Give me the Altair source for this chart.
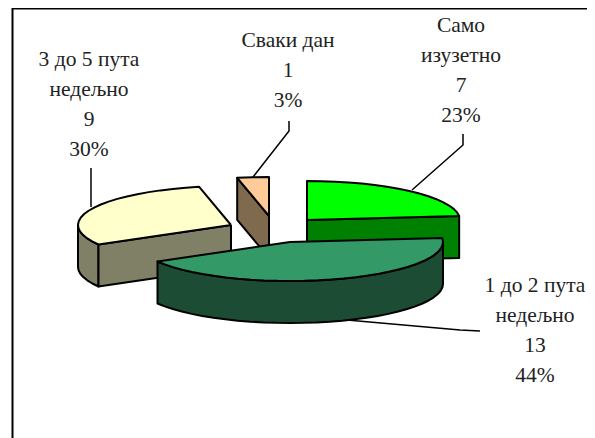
import math
import altair as alt
import pandas as pd

CATEGORIES = ["Само изузетно", "1 до 2 пута недељно", "3 до 5 пута недељно", "Сваки дан"]
COUNTS = [7, 13, 9, 1]
PERCENTS = ["23%", "44%", "30%", "3%"]

TOP_COLORS = ["#00FF00", "#339966", "#FFFFCC", "#FFCC99"]
SIDE_COLORS = ["#008000", "#1C4C33", "#808066", "#806A4D"]
APEX = [(307, 220), (290, 242), (231, 225), (269, 216)]
RX, RY, DEPTH = 153, 39, 42
STEP = 5

X = alt.Scale(domain=[8, 587], range=[0, 579], nice=False, zero=False)
Y = alt.Scale(domain=[8, 438], range=[0, 430], nice=False, zero=False)


def pt(i, deg, drop=0):
    a = math.radians(deg)
    return APEX[i][0] + RX * math.sin(a), APEX[i][1] - RY * math.cos(a) + drop


def arc(i, a0, a1, drop=0):
    n = max(1, int(abs(a1 - a0) / STEP))
    return [pt(i, a0 + (a1 - a0) * k / n, drop) for k in range(n + 1)]


def poly(points, fill):
    pts = list(points) + [points[0]]
    df = pd.DataFrame({"x": [p[0] for p in pts], "y": [p[1] for p in pts], "o": range(len(pts))})
    return alt.Chart(df).mark_line(fill=fill, stroke="black", strokeWidth=2, strokeJoin="round", interpolate="linear").encode(
        x=alt.X("x:Q", scale=X, axis=None),
        y=alt.Y("y:Q", scale=Y, axis=None),
        order="o:Q",
    )


def path(points, width=1.5):
    df = pd.DataFrame({"x": [p[0] for p in points], "y": [p[1] for p in points], "o": range(len(points))})
    return alt.Chart(df).mark_line(color="black", strokeWidth=width).encode(
        x=alt.X("x:Q", scale=X, axis=None),
        y=alt.Y("y:Q", scale=Y, axis=None),
        order="o:Q",
    )


total = sum(COUNTS)
angles = [0]
for c in COUNTS:
    angles.append(angles[-1] + c / total * 360)
layers = []

layers.append(path([(587, 8.5), (12.5, 8.5), (12.5, 438)], 2))

layers.append(path([(91, 168), (91, 207)]))
layers.append(path([(289, 121), (289, 131), (253, 177)]))
layers.append(path([(463, 134), (463, 145), (412, 190)]))
layers.append(path([(347, 320), (460, 330), (480, 331)]))

order = [2, 3, 0, 1]
for i in order:
    a0, a1 = angles[i], angles[i + 1]
    ax, ay = APEX[i]
    lo, hi = max(a0, 90), min(a1, 270)
    if lo < hi:
        top = arc(i, lo, hi)
        bot = arc(i, hi, lo, DEPTH)
        layers.append(poly(top + bot, SIDE_COLORS[i]))
    if i == 0:
        e = pt(i, a1)
        layers.append(poly([(ax, ay), e, (e[0], e[1] + DEPTH), (ax, ay + DEPTH)], SIDE_COLORS[i]))
    if i in (2, 3):
        s = pt(i, a0)
        layers.append(poly([(ax, ay), s, (s[0], s[1] + DEPTH), (ax, ay + DEPTH)], SIDE_COLORS[i]))
    layers.append(poly([(ax, ay)] + arc(i, a0, a1), TOP_COLORS[i]))

LABEL_LINES = [
    ["Само", "изузетно", str(COUNTS[0]), PERCENTS[0]],
    ["1 до 2 пута", "недељно", str(COUNTS[1]), PERCENTS[1]],
    ["3 до 5 пута", "недељно", str(COUNTS[2]), PERCENTS[2]],
    ["Сваки дан", str(COUNTS[3]), PERCENTS[3]],
]
LABEL_POS = [(461, 26), (535, 286), (89, 60), (288, 41)]
rows = []
for lines, (lx, ly) in zip(LABEL_LINES, LABEL_POS):
    for k, t in enumerate(lines):
        rows.append({"x": lx, "y": ly + k * 30, "t": t})
text = alt.Chart(pd.DataFrame(rows)).mark_text(
    font="Liberation Serif", fontSize=21.5, color="#222222", align="center", baseline="middle"
).encode(x=alt.X("x:Q", scale=X, axis=None), y=alt.Y("y:Q", scale=Y, axis=None), text="t:N")
layers.append(text)

chart = alt.layer(*layers).properties(
    width=579, height=430, padding=0, autosize=alt.AutoSizeParams(type="none")
).configure_view(stroke=None)
chart.save("out.html", embed_options={"renderer": "svg", "actions": False})
